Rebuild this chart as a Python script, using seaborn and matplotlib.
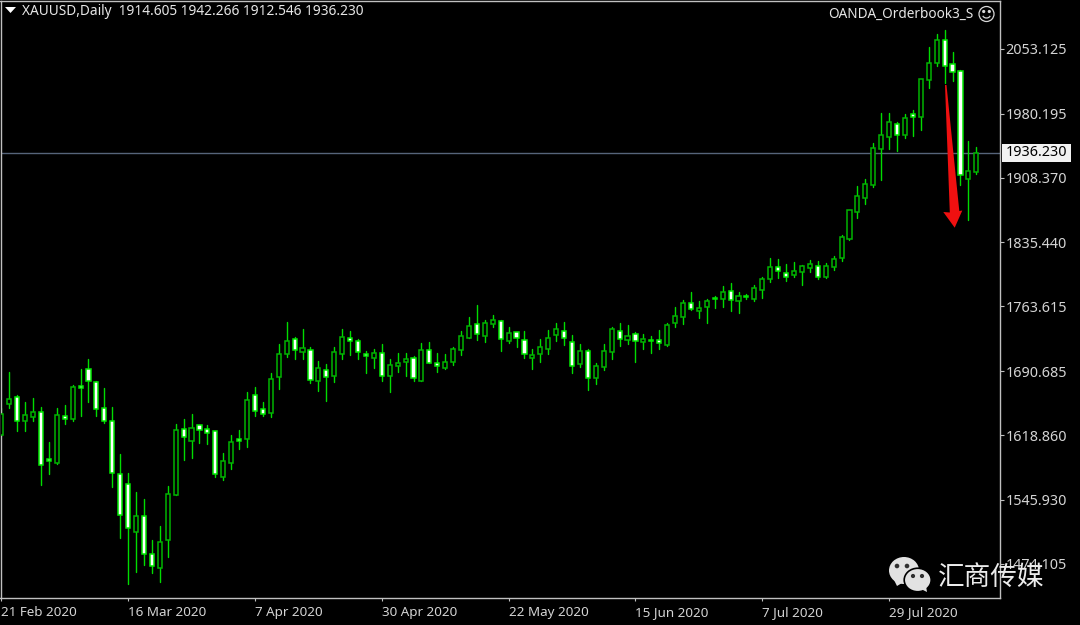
import matplotlib
matplotlib.use("Agg")
import matplotlib.pyplot as plt
import numpy as np
import pandas as pd
import seaborn as sns
from matplotlib.patches import Polygon, Rectangle, Ellipse, Circle, Arc

# ---- data (prices) -----------------------------------------------------
opens = [1618.9,1654.2,1662.0,1634.3,1639.5,1644.4,1592.3,1587.1,1639.9,1637.3,
         1673.6,1693.5,1678.9,1648.9,1634.3,1575.1,1564.2,1509.5,1527.5,1485.1,
         1469.4,1500.5,1551.8,1625.3,1611.8,1629.8,1625.3,1623.0,1571.7,1587.1,
         1614.4,1614.0,1663.5,1648.2,1643.7,1683.7,1710.4,1726.5,1712.6,1714.5,
         1679.6,1692.4,1685.2,1710.4,1728.0,1724.6,1710.0,1705.9,1711.1,1684.9,
         1696.1,1700.6,1705.5,1679.6,1714.1,1699.9,1694.6,1701.0,1714.1,1728.3,
         1743.3,1729.8,1744.1,1746.7,1725.0,1734.4,1725.4,1705.1,1709.6,1716.0,
         1731.7,1735.5,1723.5,1698.7,1713.4,1683.0,1695.0,1712.6,1736.2,1726.1,
         1732.1,1723.9,1725.7,1725.4,1720.5,1745.2,1752.0,1767.7,1758.7,1763.2,
         1773.3,1771.4,1781.2,1769.2,1775.2,1772.2,1782.3,1794.7,1808.2,1801.4,
         1798.4,1802.2,1806.3,1809.3,1796.5,1807.4,1817.5,1839.6,1870.0,1885.7,
         1900.3,1940.4,1953.6,1968.2,1956.2,1979.4,1976.0,2018.4,2037.5,2063.0,
         2035.7,2028.5,1906.7,1914.6]
highs = [1648.9,1689.4,1663.9,1656.0,1660.2,1650.0,1610.7,1648.9,1652.3,1675.1,
         1692.8,1704.0,1680.0,1671.4,1650.0,1597.6,1575.8,1554.5,1547.0,1500.9,
         1516.6,1561.6,1631.3,1636.5,1642.2,1629.8,1629.8,1623.4,1599.1,1618.9,
         1624.5,1666.9,1672.5,1655.7,1689.0,1721.2,1745.6,1728.7,1738.1,1718.2,
         1702.1,1698.4,1718.2,1738.1,1735.8,1726.8,1713.7,1715.6,1721.2,1704.7,
         1711.5,1711.5,1708.1,1722.7,1723.8,1711.5,1710.4,1718.2,1735.5,1751.2,
         1765.1,1748.2,1753.8,1748.2,1740.7,1734.7,1735.8,1715.6,1726.9,1737.0,
         1745.2,1746.0,1731.0,1721.2,1715.2,1700.2,1721.2,1740.0,1744.8,1742.2,
         1735.1,1732.5,1730.2,1737.0,1744.5,1762.5,1770.7,1779.3,1769.2,1771.8,
         1775.2,1786.0,1789.4,1779.3,1777.4,1787.2,1796.9,1818.3,1816.4,1810.8,
         1813.8,1810.4,1815.3,1814.1,1811.9,1820.5,1843.8,1871.5,1898.9,1906.7,
         1946.8,1980.6,1980.6,1970.4,1979.4,1984.3,2018.8,2055.5,2069.8,2074.3,
         2049.9,2029.3,1949.8,1942.3]
lows = [1617.8,1649.7,1623.8,1623.8,1634.7,1562.7,1574.7,1586.3,1631.7,1634.7,
        1640.7,1656.4,1640.7,1632.8,1560.5,1503.5,1451.0,1464.5,1472.4,1463.4,
        1453.6,1481.4,1551.5,1591.2,1593.4,1610.3,1609.2,1571.3,1568.0,1580.3,
        1603.6,1605.8,1640.7,1640.3,1639.2,1670.6,1706.2,1704.7,1704.7,1677.0,
        1668.4,1657.1,1678.5,1704.7,1709.2,1704.7,1689.0,1694.6,1679.2,1667.3,
        1690.1,1684.9,1679.2,1679.2,1699.5,1690.1,1692.7,1697.2,1709.2,1727.6,
        1725.7,1723.9,1740.7,1713.7,1722.7,1717.5,1705.9,1692.7,1701.4,1710.4,
        1724.6,1720.1,1688.3,1695.0,1669.5,1676.3,1692.0,1704.7,1719.4,1721.2,
        1700.6,1716.0,1710.7,1716.0,1719.4,1740.7,1743.7,1759.5,1750.5,1745.2,
        1762.1,1762.8,1758.3,1756.4,1771.4,1769.5,1773.3,1790.9,1795.0,1792.0,
        1796.2,1787.5,1802.2,1793.9,1795.0,1804.8,1814.9,1838.1,1863.2,1878.6,
        1898.1,1905.6,1940.1,1938.6,1952.4,1955.1,1961.8,2009.0,2033.8,2015.0,
        2016.9,1900.0,1860.6,1912.5]
closes = [1642.2,1659.0,1634.3,1641.0,1644.4,1585.2,1589.3,1641.0,1636.5,1672.5,
          1671.8,1680.0,1648.5,1634.3,1576.2,1528.6,1514.0,1527.5,1485.1,1471.6,
          1498.2,1552.2,1624.2,1616.3,1626.4,1624.2,1620.8,1575.1,1590.1,1610.7,
          1612.6,1657.9,1646.3,1642.5,1681.9,1710.0,1724.6,1714.1,1716.4,1680.7,
          1694.6,1684.1,1712.2,1728.7,1725.0,1711.9,1707.4,1711.5,1685.2,1698.0,
          1700.2,1704.7,1683.4,1714.5,1699.9,1696.5,1701.4,1715.6,1729.8,1741.1,
          1732.1,1744.5,1747.8,1726.5,1733.2,1727.6,1710.0,1708.9,1717.9,1727.6,
          1737.7,1727.6,1696.5,1713.7,1683.0,1696.9,1713.7,1737.7,1726.5,1729.9,
          1724.2,1726.5,1724.2,1722.0,1742.2,1753.1,1767.0,1760.2,1762.1,1770.0,
          1772.2,1779.3,1770.3,1774.8,1773.7,1783.8,1793.9,1808.2,1803.3,1796.9,
          1802.9,1809.3,1810.8,1796.5,1809.3,1817.1,1841.5,1871.5,1887.2,1900.7,
          1941.6,1956.2,1970.4,1956.2,1974.9,1976.4,2018.8,2037.5,2063.0,2034.1,
          2027.4,1911.6,1916.1,1936.2]
price_ticks = [2053.125, 1980.195, 1908.370, 1835.440, 1763.615,
               1690.685, 1618.860, 1545.930, 1474.105]
date_labels = ["21 Feb 2020", "16 Mar 2020", "7 Apr 2020", "30 Apr 2020",
               "22 May 2020", "15 Jun 2020", "7 Jul 2020", "29 Jul 2020"]
bars_per_date_label = 16
last_price = 1936.230
header = "XAUUSD,Daily  1914.605 1942.266 1912.546 1936.230"
indicator = "OANDA_Orderbook3_S"
watermark = "汇商传媒"

# ---- style ---------------------------------------------------------------
GREEN = "#00dc00"
GREEN_DK = "#00b400"
TXT = "#d4d4d4"
FRAME = "#c0c0c0"
sns.set_theme(style="dark", rc={"axes.facecolor": "black", "figure.facecolor": "black",
                                "axes.edgecolor": FRAME, "axes.linewidth": 1.0,
                                "xtick.color": FRAME, "ytick.color": FRAME,
                                "xtick.bottom": True, "ytick.right": True,
                                "axes.grid": False})
plt.rcParams["font.family"] = ["Noto Sans", "DejaVu Sans"]

W, H = 1080, 625
fig = plt.figure(figsize=(W / 100, H / 100), dpi=100)
ax = fig.add_axes([0.5 / W, (H - 598) / H, 999.5 / W, 597.5 / H])

df = pd.DataFrame({"i": np.arange(len(opens)), "o": opens, "h": highs, "l": lows, "c": closes})
df["bear"] = df["c"] < df["o"]
df["top"] = df[["o", "c"]].max(axis=1)
df["bot"] = df[["o", "c"]].min(axis=1)
df["size"] = df["top"] - df["bot"]

# wicks: one 2-point line per candle
wicks = df.melt(id_vars="i", value_vars=["h", "l"], value_name="p")
sns.lineplot(data=wicks, x="i", y="p", units="i", estimator=None, color=GREEN,
             linewidth=1.0, ax=ax, zorder=2, legend=False, sort=False)

# bodies
for sub, face, edge in ((df[df.bear], "white", "#00e800"), (df[~df.bear], "black", GREEN_DK)):
    sub = sub.sort_values("i")
    ax.bar(sub["i"], sub["size"], bottom=sub["bot"], width=0.52, color=face,
           edgecolor=edge, linewidth=1.1, zorder=3)

ax.set_xlim(-0.8 / 7.927, (1000 - 1.3) / 7.927)
ax.set_ylim(2108 - 1.1243 * 598, 2108 - 1.1243 * 0.5)

# last price line
ax.axhline(last_price, color="#56647a", linewidth=1.0, zorder=1)

# axes
ax.yaxis.tick_right()
ax.set_yticks(price_ticks)
ax.set_yticklabels([f"{p:.3f}" for p in price_ticks], fontsize=10.35, color=TXT)
ax.set_xticks([k * bars_per_date_label for k in range(len(date_labels))])
ax.set_xticklabels(date_labels, fontsize=9.65, color=TXT, ha="left")
ax.tick_params(axis="x", length=2.5, width=0.8, pad=3)
ax.tick_params(axis="y", length=3, width=0.8, pad=1)
ax.set_xlabel("")
ax.set_ylabel("")
for s in ax.spines.values():
    s.set_visible(True)
    s.set_color(FRAME)

# pixel helpers for annotation furniture
px = lambda x, y: (x / W, 1 - y / H)
def poly(pts, **k):
    fig.add_artist(Polygon([px(*p) for p in pts], closed=True, transform=fig.transFigure, **k))

# last price tag
fig.add_artist(Rectangle(px(1002, 161.7), 69 / W, 17.4 / H, transform=fig.transFigure,
                         facecolor="#f2f2f2", edgecolor="none", zorder=5))
fig.text(1006 / W, 1 - 153 / H, f"{last_price:.3f}", color="black", fontsize=10.35,
         va="center", ha="left", zorder=6)

# header
poly([(5, 7), (16, 7), (10.5, 13)], facecolor="white", edgecolor="none")
fig.text(22 / W, 1 - 11.5 / H, header, color="#e6e6e6", fontsize=9.87, va="center", ha="left")
fig.text(973 / W, 1 - 14 / H, indicator, color="#e6e6e6", fontsize=9.75, va="center", ha="right")

# smiley (pixel-space axes overlay)
ov = fig.add_axes([0, 0, 1, 1], facecolor="none", zorder=10)
ov.set_xlim(0, W); ov.set_ylim(H, 0); ov.axis("off")
ov.add_patch(Circle((986.5, 14), 7.5, facecolor="none", edgecolor="#d8d8d8", linewidth=0.9))
ov.add_patch(Circle((983.7, 11.5), 0.9, color="#d8d8d8"))
ov.add_patch(Circle((989.3, 11.5), 0.9, color="#d8d8d8"))
ov.add_patch(Arc((986.5, 14.5), 8, 7, theta1=20, theta2=160, edgecolor="#d8d8d8", linewidth=0.9))

# red arrow
ov.add_patch(Polygon([(945, 85), (946.5, 85), (959.3, 211), (962.3, 210.5), (954.7, 227.7),
                      (943.3, 212), (949.8, 212.5)], facecolor="#f01010", edgecolor="none"))

# watermark
G = "#e2e2e2"
ov.add_patch(Ellipse((904, 570.5), 30, 27, facecolor=G, edgecolor="none"))
ov.add_patch(Polygon([(894, 580), (897, 586), (902, 583)], facecolor=G, edgecolor="none"))
ov.add_patch(Ellipse((917.7, 580), 27, 23.5, facecolor=G, edgecolor="black", linewidth=1.2))
ov.add_patch(Polygon([(921, 589), (927, 592), (926, 586)], facecolor=G, edgecolor="none"))
for (ex, ey), r in (((897, 566), 1.6), ((907, 566), 1.6), ((913, 576), 1.4), ((922, 576), 1.4)):
    ov.add_patch(Circle((ex, ey), r, color="#303030"))
ov.text(938, 577, watermark, color="#ececec", fontsize=19.2,
        family=["Noto Sans CJK SC", "DejaVu Sans"], va="center", ha="left")

fig.savefig("out.png", dpi=100, facecolor="black")
